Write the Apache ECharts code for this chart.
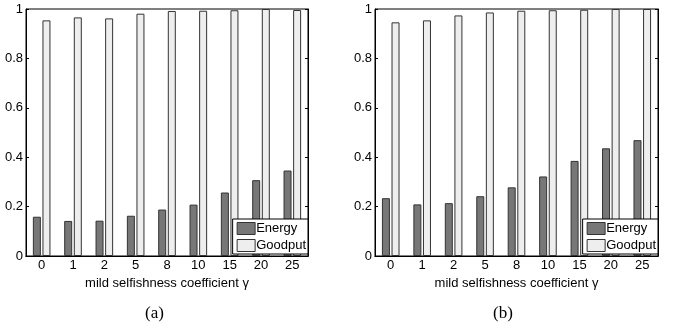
<!DOCTYPE html>
<html>
<head>
<meta charset="utf-8">
<script src="https://cdn.jsdelivr.net/npm/echarts@6/dist/echarts.min.js"></script>
<style>
html, body { margin: 0; padding: 0; background: #fff; }
#main { width: 675px; height: 332px; }
</style>
</head>
<body>
<div id="main"></div>
<script>
// categories: mild selfishness coefficient
var gammas = ['0', '1', '2', '5', '8', '10', '15', '20', '25'];
var yTicks = [0, 0.2, 0.4, 0.6, 0.8, 1];

// (a)
var energyA  = [0.159, 0.142, 0.143, 0.163, 0.188, 0.208, 0.257, 0.307, 0.346];
var goodputA = [0.954, 0.966, 0.962, 0.981, 0.992, 0.993, 0.995, 1.0, 0.996];
// (b)
var energyB  = [0.234, 0.209, 0.214, 0.242, 0.278, 0.322, 0.385, 0.436, 0.469];
var goodputB = [0.946, 0.954, 0.974, 0.986, 0.993, 0.995, 0.997, 1.0, 1.0];

var font = 'Liberation Sans, Arial, sans-serif';
var myChart = echarts.init(document.getElementById('main'));

function xAxes(idx) {
    return [{
        type: 'category', gridIndex: idx, data: gammas, position: 'bottom',
        axisLine: { lineStyle: { color: '#000' } },
        axisTick: { inside: true, length: 3, alignWithLabel: true, lineStyle: { color: '#000' } },
        axisLabel: { color: '#000', fontSize: 13, fontFamily: font, margin: 3 },
        name: 'mild selfishness coefficient \u03b3', nameLocation: 'middle', nameGap: 13,
        nameTextStyle: { color: '#000', fontSize: 13, fontFamily: font }
    }, {
        type: 'category', gridIndex: idx, data: gammas, position: 'top',
        axisLine: { lineStyle: { color: '#000' } },
        axisTick: { inside: true, length: 3, alignWithLabel: true, lineStyle: { color: '#000' } },
        axisLabel: { show: false }
    }];
}
function yAxes(idx) {
    return [{
        type: 'value', gridIndex: idx, min: 0, max: 1, interval: 0.2, position: 'left',
        axisLine: { show: true, lineStyle: { color: '#000' } },
        axisTick: { show: true, inside: true, length: 3, lineStyle: { color: '#000' } },
        axisLabel: { color: '#000', fontSize: 13, fontFamily: font, margin: 3 },
        splitLine: { show: false }
    }, {
        type: 'value', gridIndex: idx, min: 0, max: 1, interval: 0.2, position: 'right',
        axisLine: { show: true, lineStyle: { color: '#000' } },
        axisTick: { show: true, inside: true, length: 3, lineStyle: { color: '#000' } },
        axisLabel: { show: false },
        splitLine: { show: false }
    }];
}
function bars(name, data, xi, yi, color) {
    return {
        name: name, type: 'bar', xAxisIndex: xi, yAxisIndex: yi, data: data,
        barWidth: 8, barGap: '20%',
        itemStyle: { color: color, borderColor: '#333', borderWidth: 1 }
    };
}
function legendAt(right) {
    return {
        data: ['Energy', 'Goodput'], orient: 'vertical', right: right, top: 219,
        icon: 'rect', itemWidth: 18, itemHeight: 12, itemGap: 4,
        padding: [3, 2, 2, 4], backgroundColor: '#fff',
        borderColor: '#000', borderWidth: 1, borderRadius: 0,
        textStyle: { color: '#000', fontSize: 13, fontFamily: font, padding: [0, 0, 0, -4] },
        itemStyle: { borderColor: '#333', borderWidth: 1 },
        selectedMode: false
    };
}

option = {
    animation: false,
    backgroundColor: '#fff',
    grid: [
        { left: 26, top: 9, width: 282, height: 247, show: true, borderColor: '#000', borderWidth: 1 },
        { left: 375, top: 9, width: 283, height: 247, show: true, borderColor: '#000', borderWidth: 1 }
    ],
    xAxis: xAxes(0).concat(xAxes(1)),
    yAxis: yAxes(0).concat(yAxes(1)),
    legend: [legendAt(367), legendAt(17)],
    series: [
        bars('Energy', energyA, 0, 0, '#777777'),
        bars('Goodput', goodputA, 0, 0, '#eeeeee'),
        bars('Energy', energyB, 2, 2, '#777777'),
        bars('Goodput', goodputB, 2, 2, '#eeeeee')
    ],
    graphic: [
        { type: 'text', left: 145, top: 305, style: { text: '(a)', font: '17px "Liberation Serif", "Times New Roman", serif', fill: '#000' } },
        { type: 'text', left: 493, top: 305, style: { text: '(b)', font: '17px "Liberation Serif", "Times New Roman", serif', fill: '#000' } }
    ]
};
myChart.setOption(option);
</script>
</body>
</html>
